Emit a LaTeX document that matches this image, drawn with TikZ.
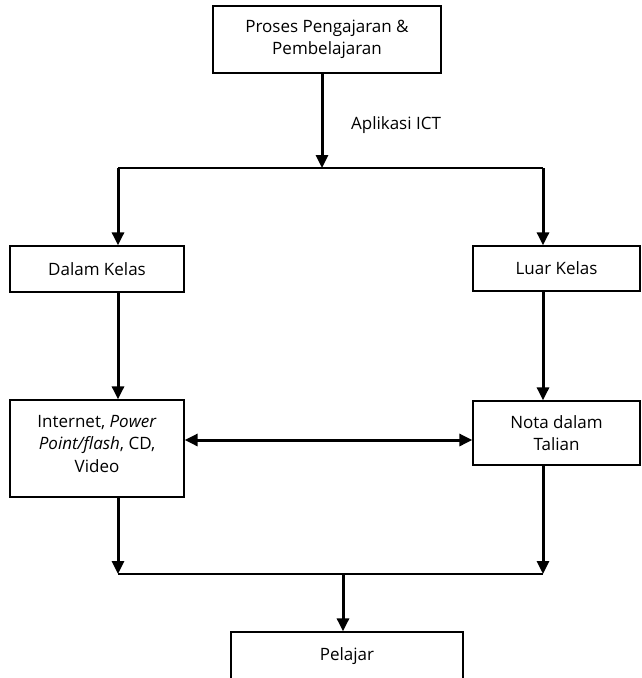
\documentclass[tikz,border=0pt]{standalone}
\usepackage{fontspec}
\setmainfont{Open Sans}
\usetikzlibrary{arrows.meta}
\begin{document}
\begin{tikzpicture}[x=1pt,y=-1pt,
  box/.style={draw, line width=1.3pt, inner sep=0pt, align=center, font=\fontsize{17}{22.5}\selectfont},
  txt/.style={font=\fontsize{17}{22.5}\selectfont, inner sep=0pt},
  down arrow/.style={line width=3pt, -{Triangle[width=12pt,length=13pt]}},
  both arrow/.style={line width=3pt, {Triangle[width=12pt,length=13pt]}-{Triangle[width=12pt,length=13pt]}},
  thin line/.style={line width=1.4pt}]
\useasboundingbox (0,0) rectangle (642,678);
\clip (0,0) rectangle (642,678);
\node[box, minimum width=228pt, minimum height=67pt] (top) at (327,39.5) {Proses Pengajaran \&\\Pembelajaran};
\node[box, minimum width=174pt, minimum height=46pt] (dalam) at (97,269) {Dalam Kelas};
\node[box, minimum width=167pt, minimum height=45pt] (luar) at (556.5,268.5) {Luar Kelas};
\node[box, minimum width=174pt, minimum height=97pt] (inet) at (97,448.5) {Internet, \textit{Power}\\\textit{Point/flash}, CD,\\Video\rule[-10pt]{0pt}{10pt}};
\node[box, minimum width=167pt, minimum height=64pt] (nota) at (556.5,433) {Nota dalam\\Talian};
\node[box, minimum width=232pt, minimum height=60pt, text height=12pt, text depth=16pt] (pel) at (347,662) {Pelajar};
\node[txt] (ict) at (396,125) {Aplikasi ICT};
\coordinate (split) at (322,168);
\coordinate (sl) at (118,168);
\coordinate (sr) at (543,168);
\coordinate (jl) at (118,574);
\coordinate (jr) at (543,574);
\coordinate (jm) at (343,574);
\coordinate (mid) at (0,440);
\draw[down arrow] (top.south -| split) -- (split);
\draw[thin line] (sl) -- (sr);
\draw[down arrow] (sl) -- (sl |- dalam.north);
\draw[down arrow] (sr) -- (sr |- luar.north);
\draw[down arrow] (sl |- dalam.south) -- (sl |- inet.north);
\draw[down arrow] (sr |- luar.south) -- (sr |- nota.north);
\draw[both arrow] (inet.east |- mid) -- (nota.west |- mid);
\draw[down arrow] (jl |- inet.south) -- (jl);
\draw[down arrow] (jr |- nota.south) -- (jr);
\draw[thin line] (jl) -- (jr);
\draw[down arrow] (jm) -- (jm |- pel.north);
\end{tikzpicture}
\end{document}
